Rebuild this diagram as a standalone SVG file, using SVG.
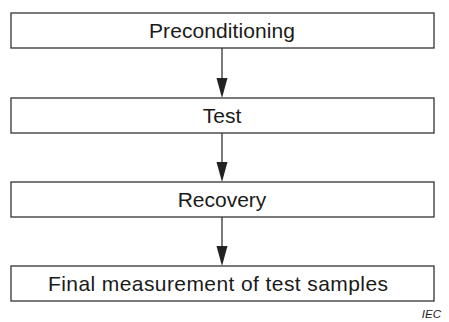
<svg xmlns="http://www.w3.org/2000/svg" width="449" height="322" viewBox="0 0 449 322">
<style>
.box{fill:#fff;stroke:#333;stroke-width:1.3}
.lbl{font-family:"Liberation Sans",Arial,sans-serif;font-size:21px;fill:#1a1a1a;text-anchor:middle}
.conn line{stroke:#222;stroke-width:1.2}
.conn polygon{fill:#222}
.iec{font-family:"Liberation Sans",Arial,sans-serif;font-size:11.5px;font-style:italic;fill:#222;text-anchor:end}
</style>
<rect width="449" height="322" fill="#fff"/>
<g id="connectors" class="conn">
<line x1="222" y1="48" x2="222" y2="80"/>
<polygon points="216.5,78 227.5,78 222,98"/>
<line x1="222" y1="133" x2="222" y2="164"/>
<polygon points="216.5,162 227.5,162 222,182"/>
<line x1="222" y1="217" x2="222" y2="248"/>
<polygon points="216.5,246 227.5,246 222,266"/>
</g>
<g id="preconditioning">
<rect class="box" x="11" y="13" width="423" height="35"/>
<text class="lbl" x="222" y="38" textLength="146" lengthAdjust="spacing">Preconditioning</text>
</g>
<g id="test">
<rect class="box" x="11" y="98" width="423" height="35"/>
<text class="lbl" x="222" y="123">Test</text>
</g>
<g id="recovery">
<rect class="box" x="11" y="182" width="423" height="35"/>
<text class="lbl" x="222" y="207">Recovery</text>
</g>
<g id="final">
<rect class="box" x="11" y="266" width="423" height="35"/>
<text class="lbl" x="218" y="291" textLength="340" lengthAdjust="spacing">Final measurement of test samples</text>
</g>
<text class="iec" x="441" y="318">IEC</text>
</svg>
